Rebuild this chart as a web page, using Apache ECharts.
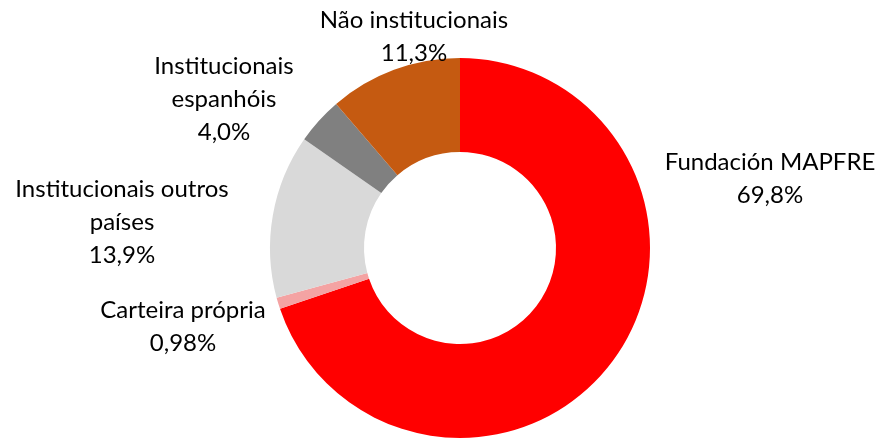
<!DOCTYPE html>
<html>
<head>
<meta charset="utf-8">
<script src="https://cdn.jsdelivr.net/npm/echarts@6/dist/echarts.min.js"></script>
<style>
  html, body { margin: 0; padding: 0; background: #fff; }
  #chartWrapper { width: 882px; height: 442px; }
</style>
</head>
<body>
<div id="chartWrapper"></div>
<script>
// dados do gráfico
let categories = ['Fundación MAPFRE', 'Carteira própria', 'Institucionais outros\npaíses', 'Institucionais\nespanhóis', 'Não institucionais'];
let shares = [69.8, 0.98, 13.9, 4.0, 11.3];
let colors = ['#ff0000', '#f4a3a3', '#d9d9d9', '#808080', '#c55a11'];

// posição do centro de cada rótulo (layout, não dados)
let labelPos = [[770, 179], [183, 327], [122, 222], [224, 99], [414, 37]];

function fmtPct(v) {
    let s = v < 1 ? v.toFixed(2) : v.toFixed(1);
    return s.replace('.', ',') + '%';
}

let myChart = echarts.init(document.getElementById('chartWrapper'));

let seriesData = [];
for (let i = 0; i < categories.length; i++) {
    seriesData.push({
        name: categories[i],
        value: shares[i],
        itemStyle: { color: colors[i] }
    });
}

let option = {
    animation: false,
    series: [{
        type: 'pie',
        center: [460, 248],
        radius: [96, 190],
        startAngle: 90,
        clockwise: true,
        data: seriesData,
        label: {
            show: true,
            position: 'outside',
            overflow: 'none',
            color: '#000',
            fontFamily: 'Lato',
            fontSize: 24,
            lineHeight: 33,
            align: 'center',
            formatter: function (p) {
                return p.name + '\n' + fmtPct(p.value);
            }
        },
        labelLine: { show: false },
        labelLayout: function (params) {
            let pos = labelPos[params.dataIndex];
            return {
                x: pos[0],
                y: pos[1],
                align: 'center',
                verticalAlign: 'middle'
            };
        },
        emphasis: { disabled: true }
    }]
};

myChart.setOption(option);
</script>
</body>
</html>
